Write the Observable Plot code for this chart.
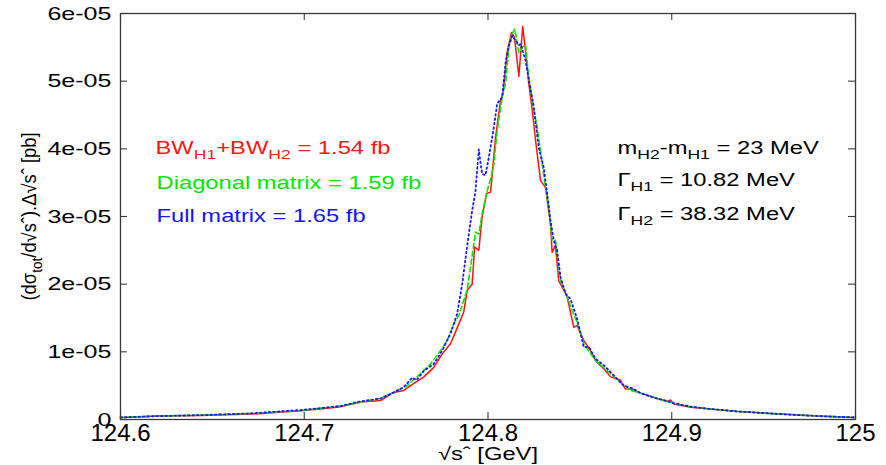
<!DOCTYPE html>
<html>
<head>
<meta charset="utf-8">
<script src="https://cdn.jsdelivr.net/npm/d3@7"></script>
<script src="https://cdn.jsdelivr.net/npm/@observablehq/plot@0.6"></script>
<style>
  html, body { margin: 0; padding: 0; background: #ffffff; }
  #chart svg { display: block; }
</style>
</head>
<body>
<div id="chart"></div>
<script>
// ---- Data (y values in units of 1e-05 pb) ----
const xRed = [124.600,124.620,124.644,124.671,124.698,124.710,124.720,124.731,124.7415,124.7487,124.7542,124.7578,124.7651,124.7705,124.7751,124.7796,124.7832,124.7868,124.7887,124.7914,124.7927,124.7950,124.7968,124.7992,124.8014,124.8041,124.8068,124.8083,124.8104,124.8128,124.8144,124.8168,124.8189,124.8204,124.8222,124.8241,124.8259,124.8286,124.8313,124.8340,124.8349,124.8367,124.8385,124.8413,124.8431,124.8467,124.8485,124.8521,124.8558,124.8585,124.8630,124.8667,124.8721,124.8748,124.8785,124.8830,124.8921,124.8984,124.8993,124.9011,124.9102,124.9193,124.9356,124.9592,124.9800,125.000];
const yRed = [0.03,0.05,0.06,0.08,0.13,0.16,0.19,0.26,0.28,0.40,0.43,0.50,0.63,0.77,0.97,1.12,1.35,1.59,1.91,2.00,2.55,2.50,2.99,3.34,3.36,4.17,4.71,4.84,5.43,5.72,5.65,5.07,5.81,5.45,4.96,4.57,4.12,3.53,3.43,2.89,2.47,2.57,2.05,1.91,1.81,1.36,1.39,1.17,1.02,0.87,0.75,0.63,0.58,0.45,0.45,0.39,0.31,0.27,0.29,0.23,0.18,0.16,0.12,0.08,0.05,0.03];

const xGreen = [124.600,124.620,124.644,124.671,124.698,124.710,124.720,124.731,124.7415,124.7487,124.7560,124.7633,124.7687,124.7742,124.7778,124.7814,124.7841,124.7868,124.7887,124.7905,124.7932,124.7950,124.7968,124.7996,124.8019,124.8032,124.8050,124.8077,124.8095,124.8114,124.8132,124.8146,124.8168,124.8186,124.8204,124.8222,124.8249,124.8268,124.8295,124.8313,124.8331,124.8349,124.8367,124.8395,124.8431,124.8467,124.8485,124.8521,124.8585,124.8658,124.8721,124.8776,124.8830,124.8921,124.9011,124.9102,124.9193,124.9356,124.9592,124.9800,125.000];
const yGreen = [0.03,0.05,0.065,0.09,0.13,0.17,0.20,0.26,0.31,0.40,0.50,0.68,0.82,1.02,1.17,1.41,1.54,1.76,1.93,2.25,2.77,2.74,3.04,3.38,3.61,3.78,4.27,4.76,4.96,5.50,5.70,5.77,5.42,5.50,5.54,5.06,4.57,4.32,3.78,3.43,3.14,2.65,2.65,2.05,1.81,1.55,1.44,1.12,0.87,0.70,0.55,0.43,0.39,0.31,0.24,0.19,0.16,0.12,0.08,0.05,0.03];

const xBlue = [124.600,124.620,124.644,124.671,124.698,124.710,124.720,124.731,124.7415,124.7487,124.7542,124.7588,124.7611,124.7651,124.7705,124.7751,124.7796,124.7832,124.7860,124.7887,124.7914,124.7932,124.7950,124.7959,124.7968,124.7986,124.8005,124.8032,124.8050,124.8077,124.8095,124.8114,124.8132,124.8150,124.8168,124.8177,124.8204,124.8222,124.8249,124.8276,124.8303,124.8322,124.8340,124.8358,124.8376,124.8395,124.8422,124.8449,124.8485,124.8521,124.8549,124.8585,124.8639,124.8703,124.8739,124.8786,124.8830,124.8921,124.9011,124.9102,124.9193,124.9356,124.9592,124.9800,125.000];
const yBlue = [0.03,0.05,0.065,0.09,0.14,0.17,0.20,0.27,0.31,0.40,0.48,0.62,0.58,0.72,0.82,1.02,1.27,1.56,2.01,2.57,3.09,3.38,3.99,3.80,3.63,3.61,3.88,4.32,4.67,4.76,5.26,5.53,5.67,5.60,5.53,5.55,5.31,5.03,4.62,4.02,3.73,3.34,2.94,2.65,2.50,2.10,1.86,1.78,1.49,1.07,1.07,0.90,0.78,0.60,0.50,0.46,0.39,0.31,0.24,0.19,0.16,0.12,0.08,0.05,0.03];

const xTicks = [124.6, 124.7, 124.8, 124.9, 125];
const yTicks = [0, 1e-5, 2e-5, 3e-5, 4e-5, 5e-5, 6e-5];

const legendLabels = ["BW_{H1}+BW_{H2} = 1.54 fb", "Diagonal matrix = 1.59 fb", "Full matrix = 1.65 fb"];
const paramLabels = ["m_{H2}-m_{H1} = 23 MeV", "Γ_{H1} = 10.82 MeV", "Γ_{H2} = 38.32 MeV"];
const xLabel = "√sˆ [GeV]";
const yLabel = "(dσ_{tot}/d√sˆ).Δ√sˆ [pb]";

// ---- Build tables ----
const toRows = (xs, ys) => xs.map((x, i) => ({x, y: ys[i] * 1e-5}));
const red = toRows(xRed, yRed);
const green = toRows(xGreen, yGreen);
const blue = toRows(xBlue, yBlue);

const fmtY = d => d === 0 ? "0" : d.toExponential(0).replace(/e([+-])(\d)$/, "e$10$2");
const fmtX = d => String(+d.toFixed(1));

const W = 886, H = 465;
const mL = 120, mR = 31, mT = 13, mB = 46;
const fw = W - mL - mR, fh = H - mT - mB;
const tick = 7;
const axisColor = "#3a3a3a";
const cRed = "#ff1414", cGreen = "#00e800", cBlue = "#1414ff";

const chart = Plot.plot({
  width: W, height: H,
  marginLeft: mL, marginRight: mR, marginTop: mT, marginBottom: mB,
  style: {fontFamily: "'Liberation Sans', Arial, Helvetica, sans-serif", background: "#ffffff", color: "#000"},
  x: {domain: [124.6, 125]},
  y: {domain: [0, 6e-5]},
  marks: [
    Plot.ruleX(xTicks, {insetTop: fh - tick, stroke: axisColor, strokeWidth: 1.1}),
    Plot.ruleX(xTicks, {insetBottom: fh - tick, stroke: axisColor, strokeWidth: 1.1}),
    Plot.ruleY(yTicks, {insetRight: fw - tick, stroke: axisColor, strokeWidth: 1.1}),
    Plot.ruleY(yTicks, {insetLeft: fw - tick, stroke: axisColor, strokeWidth: 1.1}),
    Plot.axisX(xTicks, {tickSize: 0, tickPadding: 4, fontSize: 24, tickFormat: fmtX, label: null, fill: "#000"}),
    Plot.axisY(yTicks, {tickSize: 0, tickPadding: 9, fontSize: 19, tickFormat: fmtY, label: null, fill: "#000"}),
    Plot.line(red, {x: "x", y: "y", stroke: cRed, strokeWidth: 1.5}),
    Plot.line(green, {x: "x", y: "y", stroke: cGreen, strokeWidth: 1.6, strokeDasharray: "5,3"}),
    Plot.line(blue, {x: "x", y: "y", stroke: cBlue, strokeWidth: 1.8, strokeDasharray: "1.5,3"}),
    Plot.frame({stroke: axisColor, strokeWidth: 1.3}),
    // legend texts (left)
    Plot.text([legendLabels[0]], {frameAnchor: "top-left", dx: 35, dy: 140, lineAnchor: "bottom", textAnchor: "start", fill: cRed, fontSize: 18}),
    Plot.text([legendLabels[1]], {frameAnchor: "top-left", dx: 36, dy: 175, lineAnchor: "bottom", textAnchor: "start", fill: cGreen, fontSize: 18}),
    Plot.text([legendLabels[2]], {frameAnchor: "top-left", dx: 36, dy: 208, lineAnchor: "bottom", textAnchor: "start", fill: cBlue, fontSize: 18}),
    // parameter texts (right)
    Plot.text([paramLabels[0]], {frameAnchor: "top-left", dx: 497, dy: 140, lineAnchor: "bottom", textAnchor: "start", fill: "#000", fontSize: 18}),
    Plot.text([paramLabels[1]], {frameAnchor: "top-left", dx: 497, dy: 172, lineAnchor: "bottom", textAnchor: "start", fill: "#000", fontSize: 18}),
    Plot.text([paramLabels[2]], {frameAnchor: "top-left", dx: 497, dy: 206, lineAnchor: "bottom", textAnchor: "start", fill: "#000", fontSize: 18}),
    // axis titles
    Plot.text([xLabel], {frameAnchor: "bottom", dy: 35, lineAnchor: "middle", fill: "#000", fontSize: 18}),
    Plot.text([yLabel], {frameAnchor: "left", dx: -91, rotate: -90, lineAnchor: "middle", textAnchor: "middle", fill: "#000", fontSize: 17})
  ]
});

document.getElementById("chart").appendChild(chart);

// ---- Post-processing: subscripts and horizontal text stretch ----
const NS = "http://www.w3.org/2000/svg";
const SX = 1.32;
chart.querySelectorAll("text").forEach(t => {
  const s = t.textContent;
  if (s.includes("_{")) {
    const fs = parseFloat(getComputedStyle(t).fontSize) || 18;
    const off = fs * 0.32;
    t.textContent = "";
    const re = /_\{([^}]*)\}/g;
    let last = 0, m, shifted = false;
    const add = (txt, isSub) => {
      if (!txt) return;
      const sp = document.createElementNS(NS, "tspan");
      sp.textContent = txt;
      if (isSub) {
        sp.setAttribute("font-size", (fs * 0.74).toFixed(2));
        sp.setAttribute("dy", off.toFixed(2));
        shifted = true;
      } else if (shifted) {
        sp.setAttribute("dy", (-off).toFixed(2));
        shifted = false;
      }
      t.appendChild(sp);
    };
    while ((m = re.exec(s))) {
      add(s.slice(last, m.index), false);
      add(m[1], true);
      last = m.index + m[0].length;
    }
    add(s.slice(last), false);
  }
  const tr = t.getAttribute("transform") || "";
  const x = +t.getAttribute("x") || 0, y = +t.getAttribute("y") || 0;
  const isXTick = !!t.closest("g[aria-label='x-axis tick label']");
  let sc;
  if (/rotate/.test(tr)) {
    sc = "scale(1,1.15)";
    t.setAttribute("textLength", "168");
    t.setAttribute("lengthAdjust", "spacingAndGlyphs");
  } else if (isXTick) sc = "scale(1,1)";
  else sc = `scale(${SX},1)`;
  t.setAttribute("transform", `${tr} translate(${x},${y}) ${sc} translate(${-x},${-y})`);
});
</script>
</body>
</html>
